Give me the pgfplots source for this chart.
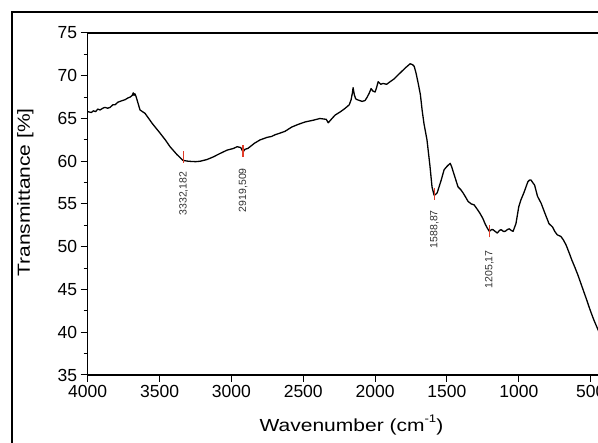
\documentclass[border=0pt]{standalone}
\usepackage{fontspec}
\setmainfont{Liberation Sans}
\newfontfamily\labelfont[FakeStretch=1.2]{Liberation Sans}
\usepackage{pgfplots}
\pgfplotsset{compat=1.18}
\definecolor{peakred}{RGB}{225,60,40}
\definecolor{peakgray}{RGB}{50,50,50}

\pgfplotstableread{
w T
4000 65.8
3975 65.7
3960 65.9
3945 65.8
3930 66.1
3914 66.0
3895 66.2
3880 66.3
3862 66.2
3844 66.3
3825 66.6
3810 66.6
3790 66.9
3775 67.0
3758 67.1
3740 67.2
3720 67.4
3705 67.5
3690 67.7
3683 68.0
3678 67.7
3672 67.9
3664 67.6
3650 66.8
3636 66.0
3601 65.6
3550 64.4
3497 63.3
3460 62.5
3427 61.7
3380 60.8
3337 60.1
3300 60.0
3250 59.95
3217 60.0
3170 60.2
3127 60.5
3080 60.9
3030 61.3
2985 61.5
2960 61.7
2935 61.6
2919 61.1
2905 61.4
2885 61.5
2870 61.7
2840 62.1
2800 62.5
2750 62.8
2720 62.9
2696 63.1
2660 63.3
2627 63.5
2580 64.0
2537 64.3
2486 64.6
2430 64.8
2384 65.0
2340 64.9
2326 64.5
2300 65.0
2278 65.4
2240 65.8
2208 66.2
2180 66.6
2167 67.2
2158 68.0
2153 68.6
2145 67.8
2135 67.3
2125 67.2
2090 67.0
2070 67.1
2055 67.5
2040 68.0
2028 68.5
2015 68.2
2000 68.1
1990 68.6
1979 69.3
1960 69.0
1945 69.1
1920 69.0
1896 69.3
1870 69.6
1840 70.1
1815 70.5
1791 70.9
1770 71.2
1756 71.4
1740 71.3
1728 71.1
1715 70.3
1700 69.1
1685 67.8
1673 66.0
1660 64.4
1639 62.5
1618 59.4
1604 57.0
1590 56.05
1580 56.1
1568 56.3
1555 57.0
1540 57.8
1520 59.0
1500 59.4
1478 59.75
1468 59.4
1457 58.8
1440 57.9
1423 57.0
1405 56.7
1388 56.3
1370 55.8
1353 55.3
1330 55.0
1311 54.9
1290 54.4
1270 53.9
1250 53.3
1235 52.7
1220 52.2
1205 51.8
1190 52.0
1180 52.0
1165 51.8
1150 51.6
1135 51.9
1123 52.0
1108 51.8
1095 51.8
1080 52.0
1067 52.1
1052 51.9
1040 51.8
1020 52.7
1000 54.7
985 55.5
965 56.3
950 57.0
937 57.6
925 57.8
915 57.8
903 57.5
890 57.2
870 55.9
845 55.1
818 53.9
790 52.7
765 52.3
750 51.8
733 51.4
720 51.3
707 51.2
690 50.8
671 50.2
650 49.3
630 48.4
610 47.6
589 46.7
570 45.8
547 44.7
530 43.9
512 43.0
495 42.2
477 41.4
449 40.3
440 39.95
}\spectrum

\begin{document}
\begin{tikzpicture}[x=1pt,y=1pt]
\useasboundingbox (0,0) rectangle (598,443);
\clip (0,0) rectangle (598,443);
\fill[white] (0,0) rectangle (598,443);
\draw[line width=1.3pt] (12,-20) -- (12,431) -- (620,431);
\begin{axis}[
  at={(87.7pt,68pt)}, anchor=south west, scale only axis,
  width=511.6pt, height=342pt,
  x dir=reverse, xmin=440, xmax=4000, ymin=35, ymax=75,
  xtick={500,1000,...,4000}, ytick={35,40,...,75},
  minor y tick num=1,
  xtick pos=left, ytick pos=left,
  tick align=outside,
  major tick length=7pt, minor tick length=4pt,
  every tick/.style={black, line width=1pt},
  axis line style={line width=1.2pt},
  ticklabel style={font=\fontsize{17.5}{20}\selectfont},
  /pgf/number format/assume math mode=true,
  /pgf/number format/1000 sep={},
  scaled x ticks=false, scaled y ticks=false,
  clip=true,
]
\addplot[black, line width=1.3pt, line join=round] table[x=w, y=T] {\spectrum};
\addplot[peakred, line width=1.6pt] coordinates {(3332,59.8) (3332,61.2)};
\addplot[peakred, line width=1.6pt] coordinates {(2919,60.5) (2919,61.9)};
\addplot[peakred, line width=1.6pt] coordinates {(1588,55.5) (1588,56.9)};
\addplot[peakred, line width=1.6pt] coordinates {(1205,51.1) (1205,52.5)};
\node[rotate=90, anchor=east, inner sep=0pt, font=\fontsize{10.5}{12}\selectfont, text=peakgray] at (axis cs:3332,58.8) {3332,182};
\node[rotate=90, anchor=east, inner sep=0pt, font=\fontsize{10.5}{12}\selectfont, text=peakgray] at (axis cs:2919,59.2) {2919,509};
\node[rotate=90, anchor=east, inner sep=0pt, font=\fontsize{10.5}{12}\selectfont, text=peakgray] at (axis cs:1588,54.3) {1588,87};
\node[rotate=90, anchor=east, inner sep=0pt, font=\fontsize{10.5}{12}\selectfont, text=peakgray] at (axis cs:1205,49.6) {1205,17};
\end{axis}
\node[anchor=base, inner sep=0pt, font=\labelfont\fontsize{17.5}{20}\selectfont] at (351.5,11.3) {Wavenumber (cm\raisebox{0.55em}{\fontsize{11}{12}\selectfont -1})};
\node[rotate=90, anchor=base, inner sep=0pt, font=\labelfont\fontsize{17.5}{20}\selectfont] at (30,250.5) {Transmittance [\%]};
\end{tikzpicture}
\end{document}
